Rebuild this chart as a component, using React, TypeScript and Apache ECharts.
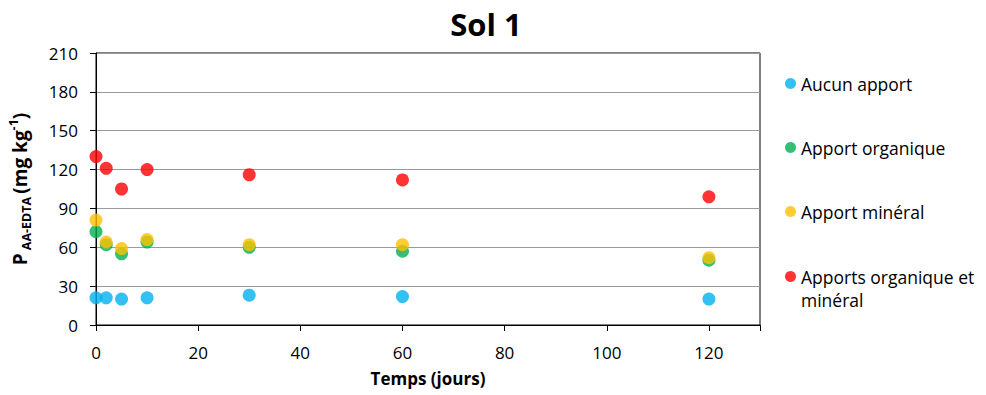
import React, { useEffect, useRef } from "react";
import * as echarts from "echarts";

const days = [0, 2, 5, 10, 30, 60, 120];
const seriesNames = [
  "Aucun apport",
  "Apport organique",
  "Apport minéral",
  "Apports organique et minéral",
];
const aucunApport = [21, 21, 20, 21, 23, 22, 20];
const apportOrganique = [72, 62, 55, 64, 60, 57, 50];
const apportMineral = [81, 64, 59, 66, 62, 62, 52];
const apportsOrgMin = [130, 121, 105, 120, 116, 112, 99];
const colors = ["#00B0F0", "#00B050", "#FFC000", "#FF0000"];
const yTicks = [0, 30, 60, 90, 120, 150, 180, 210];
const xTicks = [0, 20, 40, 60, 80, 100, 120];

const FONT = "Open Sans";

export default function App() {
  const ref = useRef<HTMLDivElement>(null);
  useEffect(() => {
    if (!ref.current) return;
    const chart = echarts.init(ref.current, undefined, { renderer: "svg" });
    const values = [aucunApport, apportOrganique, apportMineral, apportsOrgMin];
    const legendText = { fontFamily: FONT, fontSize: 17.5, color: "#000", lineHeight: 23 };
    chart.setOption({
      animation: false,
      textStyle: { fontFamily: FONT },
      title: {
        text: "Sol 1",
        left: 486,
        textAlign: "center",
        top: 3,
        padding: 0,
        textStyle: { fontFamily: FONT, fontSize: 31, fontWeight: "bold", color: "#000", lineHeight: 42 },
      },
      grid: {
        left: 96,
        top: 53,
        right: 226,
        bottom: 70,
        containLabel: false,
        outerBoundsMode: "none",
        show: true,
        borderColor: "#000",
        borderWidth: 1,
        backgroundColor: "transparent",
      },
      legend: [
        {
          orient: "vertical",
          left: 785,
          top: 72,
          padding: 0,
          itemGap: 41,
          itemWidth: 11,
          itemHeight: 11,
          icon: "circle",
          textStyle: legendText,
          data: seriesNames.slice(0, 3),
        },
        {
          orient: "vertical",
          left: 785,
          top: 265,
          padding: 0,
          itemWidth: 11,
          itemHeight: 11,
          icon: "circle",
          textStyle: legendText,
          formatter: () => "Apports organique et",
          data: seriesNames.slice(3),
        },
      ],
      graphic: [
        {
          type: "text",
          left: 801,
          top: 288,
          style: { text: "minéral", font: `17.5px "${FONT}"`, fill: "#000", lineHeight: 23 },
        },
      ],
      xAxis: {
        type: "value",
        min: xTicks[0],
        max: 130,
        interval: 20,
        name: "Temps (jours)",
        nameLocation: "middle",
        nameGap: 45,
        nameTextStyle: { fontFamily: FONT, fontSize: 17, fontWeight: "bold", color: "#000" },
        axisLine: { show: true, onZero: false, lineStyle: { color: "#000", width: 1 } },
        axisTick: { show: true, length: 6, lineStyle: { color: "#000" } },
        axisLabel: {
          fontFamily: FONT,
          fontSize: 17,
          color: "#000",
          margin: 19,
          formatter: (v: number) => (xTicks.includes(v) ? String(v) : ""),
        },
        splitLine: { show: false },
      },
      yAxis: {
        type: "value",
        min: yTicks[0],
        max: yTicks[yTicks.length - 1],
        interval: 30,
        name: "{b|P} {s|AA-EDTA} {b|(mg kg}{p|-1}{b|)}",
        nameLocation: "middle",
        nameRotate: 90,
        nameGap: 63,
        nameTextStyle: {
          fontFamily: FONT,
          color: "#000",
          rich: {
            b: { fontFamily: FONT, fontSize: 19, fontWeight: "bold", color: "#000", lineHeight: 26, verticalAlign: "middle" },
            s: { fontFamily: FONT, fontSize: 12.5, fontWeight: "bold", color: "#000", lineHeight: 26, verticalAlign: "bottom" },
            p: { fontFamily: FONT, fontSize: 12.5, fontWeight: "bold", color: "#000", lineHeight: 26, verticalAlign: "top" },
          },
        },
        axisLine: { show: true, lineStyle: { color: "#000", width: 1 } },
        axisTick: { show: true, length: 6, lineStyle: { color: "#000" } },
        axisLabel: { fontFamily: FONT, fontSize: 17, color: "#000", margin: 18 },
        splitLine: { show: true, lineStyle: { color: "#9a9a9a", width: 1 } },
      },
      series: seriesNames.map((n, i) => ({
        name: n,
        type: "scatter",
        symbol: "circle",
        symbolSize: 13,
        itemStyle: { color: colors[i] },
        data: days.map((d, j) => [d, values[i][j]]),
      })),
    });
    return () => chart.dispose();
  }, []);
  return (
    <div
      ref={ref}
      style={{ position: "fixed", left: 0, top: 0, width: 986, height: 395, background: "#fff" }}
    />
  );
}
